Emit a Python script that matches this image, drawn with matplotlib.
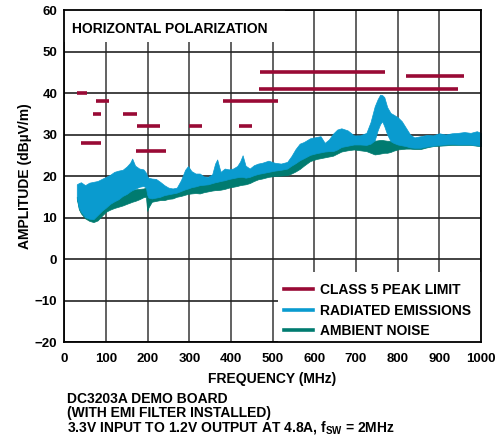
import matplotlib
matplotlib.use("Agg")
import matplotlib.pyplot as plt
from matplotlib.lines import Line2D
from matplotlib.patches import Rectangle

plt.rcParams['font.family'] = ['Liberation Sans', 'DejaVu Sans']
plt.rcParams['font.weight'] = 'bold'
plt.rcParams['mathtext.fontset'] = 'custom'
plt.rcParams['mathtext.rm'] = 'Liberation Sans:bold'
plt.rcParams['mathtext.bf'] = 'Liberation Sans:bold'

# class 5 peak limit segments (MHz, dBuV/m)
lim_start = [30, 41, 68, 76, 142, 174, 171, 300, 380, 420, 470, 468, 820]
lim_stop = [54, 88, 87, 108, 175, 230, 245, 330, 512, 450, 770, 944, 960]
lim_level = [40, 28, 35, 38, 35, 32, 26, 32, 38, 32, 45, 41, 44]

# envelopes
freq = [30, 35, 40, 50, 60, 70, 80, 90, 100, 110,
        120, 130, 140, 150, 158, 163, 170, 180, 190, 196,
        199, 202, 210, 220, 230, 240, 250, 260, 270, 280,
        290, 297, 305, 315, 325, 335, 345, 355, 362, 367,
        375, 385, 395, 405, 415, 422, 428, 435, 445, 455,
        465, 475, 490, 505, 520, 535, 545, 555, 565, 575,
        590, 605, 615, 625, 635, 645, 655, 665, 680, 695,
        710, 725, 735, 745, 752, 758, 763, 768, 775, 783,
        790, 800, 810, 820, 830, 840, 855, 870, 885, 900,
        915, 930, 945, 960, 975, 990, 1000]
rad_hi = [18.0, 18.3, 18.5, 17.8, 18.4, 18.6, 18.8, 19.3, 19.8, 20.3,
          21.0, 21.3, 21.5, 22.3, 23.2, 24.2, 22.5, 21.8, 21.6, 20.8,
          20.0, 19.6, 19.4, 19.3, 18.6, 17.8, 17.2, 17.0, 17.2, 19.0,
          21.5, 22.4, 21.2, 20.6, 20.6, 19.9, 19.8, 20.4, 23.0, 24.0,
          21.0, 21.8, 21.6, 21.8, 22.4, 23.5, 25.0, 22.5, 21.8, 22.6,
          23.0, 23.2, 23.7, 23.2, 23.0, 23.4, 24.8, 26.5, 27.8, 28.2,
          29.1, 29.4, 29.6, 28.0, 28.8, 30.2, 31.2, 31.5, 31.0, 29.8,
          29.8, 30.4, 33.0, 36.8, 38.5, 39.6, 39.5, 39.0, 36.6, 35.2,
          34.8, 34.2, 33.2, 31.6, 30.0, 29.3, 29.6, 29.9, 29.8, 30.3,
          30.0, 30.3, 30.4, 30.6, 30.4, 30.8, 30.4]
rad_lo = [14.8, 12.3, 11.4, 10.1, 9.7, 9.6, 10.6, 11.6, 12.4, 13.3,
          13.9, 14.4, 15.2, 15.7, 16.3, 16.6, 16.9, 17.4, 17.6, 17.2,
          15.5, 14.8, 14.6, 14.8, 15.0, 15.4, 15.6, 15.8, 16.0, 16.4,
          16.8, 17.0, 17.3, 17.5, 17.8, 17.9, 18.0, 18.3, 18.5, 18.6,
          18.8, 19.0, 19.3, 19.5, 19.7, 19.8, 19.8, 19.6, 19.8, 20.2,
          20.5, 20.7, 21.0, 21.3, 21.5, 21.8, 22.5, 23.1, 23.8, 24.3,
          25.1, 25.5, 25.7, 25.9, 26.0, 26.0, 26.4, 27.0, 27.3, 27.6,
          27.6, 27.5, 27.8, 28.6, 31.0, 32.5, 33.2, 32.0, 30.0, 28.4,
          28.0, 27.6, 27.4, 27.2, 26.9, 26.8, 26.8, 27.1, 27.3, 27.5,
          27.6, 27.7, 27.6, 27.6, 27.6, 27.4, 27.3]
amb_hi = [15.0, 12.8, 12.0, 11.0, 10.6, 10.8, 11.4, 12.4, 13.2, 14.0,
          14.6, 15.2, 15.8, 16.3, 16.6, 16.8, 16.8, 16.9, 17.0, 17.2,
          17.0, 15.5, 15.4, 15.6, 15.8, 16.2, 16.4, 16.6, 16.8, 17.2,
          17.6, 17.8, 18.0, 18.3, 18.6, 18.7, 18.8, 19.1, 19.3, 19.4,
          19.6, 19.8, 20.0, 20.2, 20.4, 20.5, 20.6, 20.6, 20.8, 21.0,
          21.2, 21.4, 21.7, 22.0, 22.2, 22.5, 23.2, 23.8, 24.5, 25.0,
          25.8, 26.2, 26.4, 26.6, 26.7, 26.7, 27.1, 27.6, 27.9, 28.2,
          28.2, 28.1, 28.4, 28.5, 28.6, 28.7, 28.7, 28.6, 28.5, 28.5,
          28.6, 28.2, 28.0, 27.8, 27.6, 27.4, 27.4, 27.6, 27.8, 28.0,
          28.2, 28.3, 28.4, 28.5, 28.4, 28.3, 28.2]
amb_lo = [14.5, 12.0, 11.0, 9.8, 9.2, 8.9, 9.3, 10.4, 11.4, 11.9,
          12.3, 12.6, 12.9, 13.3, 13.6, 13.8, 14.0, 14.4, 14.9, 15.0,
          11.6, 12.4, 13.8, 14.0, 14.2, 14.2, 14.5, 14.6, 15.0, 15.2,
          15.5, 15.7, 15.8, 15.9, 15.8, 16.1, 16.3, 16.5, 16.6, 16.6,
          16.7, 16.9, 17.2, 17.4, 17.6, 17.8, 17.9, 18.0, 18.3, 18.8,
          19.2, 19.4, 19.8, 20.0, 20.1, 20.2, 20.6, 21.1, 21.7, 22.5,
          23.6, 24.1, 24.3, 24.5, 24.7, 24.9, 25.4, 25.9, 26.2, 26.4,
          26.2, 26.0, 25.6, 25.2, 25.3, 25.4, 25.5, 25.6, 25.6, 25.8,
          26.1, 26.4, 26.5, 26.6, 26.6, 26.5, 26.5, 26.9, 27.2, 27.3,
          27.4, 27.5, 27.5, 27.5, 27.5, 27.3, 27.2]

x_ticks = list(range(0, 1001, 100))
y_ticks = list(range(-20, 61, 10))

c_lim = '#990a35'
c_rad = '#0a9bcf'
c_amb = '#007b70'

fig = plt.figure(figsize=(5.01, 4.44), dpi=100)
ax = fig.add_axes([0.1283, 0.2297, 0.8317, 0.7477])
ax.set_xlim(0, 1000)
ax.set_ylim(-20, 60)
ax.set_xticks(x_ticks)
ax.set_yticks(y_ticks)
ax.tick_params(length=0, labelsize=9.5, pad=5)
ax.tick_params(axis='x', pad=8)
for s in ax.spines.values():
    s.set_linewidth(1.3)
ax.grid(axis='x', color='#555555', lw=1.3)
ax.grid(axis='y', color='#222222', lw=1.2)

# blank panels behind title and legend
ax.add_patch(Rectangle((0, 52.3), 530, 7.7, facecolor='white', edgecolor='none', zorder=1.6))
ax.add_patch(Rectangle((512, -20), 488, 16.9, facecolor='white', edgecolor='none', zorder=1.6))

ax.fill_between(freq, amb_lo, amb_hi, color=c_amb, lw=0.5, zorder=2)
ax.fill_between(freq, rad_lo, rad_hi, color=c_rad, lw=0.5, zorder=2.1)
ax.hlines(lim_level, lim_start, lim_stop, colors=c_lim, lw=2.6, zorder=3)

ax.text(18, 55.5, 'HORIZONTAL POLARIZATION', fontsize=10, fontweight='bold',
        va='center', ha='left', zorder=4)

ax.set_xlabel('FREQUENCY (MHz)', fontsize=10, fontweight='bold', labelpad=5)
ax.set_ylabel('AMPLITUDE (dBµV/m)', fontsize=10, fontweight='bold', labelpad=2)

handles = [Line2D([], [], color=c_lim, lw=2.6),
           Line2D([], [], color=c_rad, lw=2.6),
           Line2D([], [], color=c_amb, lw=2.6)]
labels = ['CLASS 5 PEAK LIMIT', 'RADIATED EMISSIONS', 'AMBIENT NOISE']
ax.legend(handles, labels, loc='upper left', bbox_to_anchor=(0.527, 0.178),
          frameon=False, fontsize=10, handlelength=2.1, handletextpad=0.48,
          labelspacing=0.48, borderpad=0, borderaxespad=0)

fig.text(0.133, 1 - 399 / 444, 'DC3203A DEMO BOARD', fontsize=10, fontweight='bold', va='center')
fig.text(0.133, 1 - 413 / 444, '(WITH EMI FILTER INSTALLED)', fontsize=10, fontweight='bold', va='center')
fig.text(0.133, 1 - 427 / 444, r'3.3V INPUT TO 1.2V OUTPUT AT 4.8A, f$_{\mathrm{SW}}$ = 2MHz',
         fontsize=10, fontweight='bold', va='center')

fig.savefig('out.png', dpi=100)
